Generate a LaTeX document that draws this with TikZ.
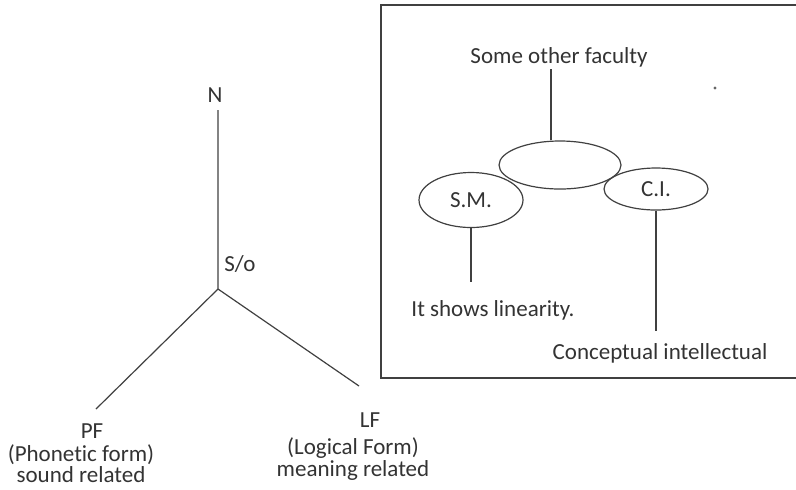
\documentclass[tikz,border=0pt]{standalone}
\usepackage{fontspec}
\setmainfont{Carlito}[Ligatures={NoCommon}]
\usepackage{tikz}
\usetikzlibrary{calc, shapes.geometric, positioning}
\tikzset{every node/.style={font=\fontsize{11.5}{9.5}\selectfont, inner sep=1pt, text=black!80},
	ligne/.style={draw=black!75, line width=0.6pt},
	bulle/.style={ellipse, draw=black!75, line width=0.6pt, inner sep=0pt}}

\begin{document}
\begin{tikzpicture}[x=0.5pt, y=-0.5pt]
	\clip (0,0) rectangle (796,489);
	%\draw[opacity=0.1] (0,0) grid[step=50] (796,489);

%%%%     ARBRE     %%%%

	%main points
	\coordinate (ntop) at (218,110);
	\coordinate (so) at (218,289);
	\coordinate (pfend) at (96,409);
	\coordinate (lfend) at (359,386);

	\node (n) at (215,95) {N};
	\node (solab) at (240,264) {S/o};

	\draw[ligne] (ntop) -- (so) -- (pfend);
	\draw[ligne] (so) -- (lfend);

	% PF
	\node (pf) at (92,431) {PF};
	\node[align=center] (pfnote) at (81,464) {(Phonetic form)\\sound related};

	% LF
	\node (lf) at (370,420) {LF};
	\node[align=center] (lfnote) at (353,459) {(Logical Form)\\meaning related};

%%%%     CADRE     %%%%

	\draw[draw=black!75, line width=1pt] (380.5,5) rectangle (820,378);

	% ellipses
	\node[bulle, minimum width=61pt, minimum height=24pt] (mid) at (560,165) {};
	\node[bulle, minimum width=52pt, minimum height=27.5pt] (sm) at (471,200) {S.M.};
	\node[bulle, minimum width=52pt, minimum height=21pt] (ci) at (656,189) {C.I.};

	% textes
	\node (fac) at (559,57) {Some other faculty};
	\node (lin) at (493,310) {It shows linearity.};
	\node (conc) at (660,353) {Conceptual intellectual};

	% traits
	\draw[ligne] ([xshift=-4.5pt]mid.north) -- ([xshift=-4.5pt]mid.north |- fac.south);
	\draw[ligne, shorten >=8pt] (sm.south) -- (sm.south |- lin.north);
	\draw[ligne, shorten >=5pt] (ci.south) -- (ci.south |- conc.north);

	% point
	\fill[black!60] (715,88) circle (0.8pt);

\end{tikzpicture}
\end{document}
